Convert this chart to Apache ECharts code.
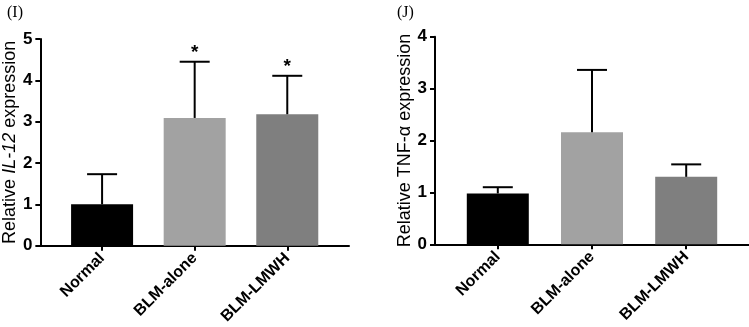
<!DOCTYPE html>
<html><head><meta charset="utf-8">
<script src="https://cdn.jsdelivr.net/npm/echarts@6/dist/echarts.min.js"></script>
<style>html,body{margin:0;padding:0;background:#fff}#c{width:749px;height:327px}</style>
</head><body><div id="c"></div>
<script>
const categories = ['Normal', 'BLM-alone', 'BLM-LMWH'];
const catPos = [2, 5, 8];
const il12Values = [1.0, 3.09, 3.18];
const il12Errors = [0.73, 1.36, 0.93];
const il12Sig = ['', '*', '*'];
const tnfValues = [0.98, 2.16, 1.30];
const tnfErrors = [0.12, 1.20, 0.24];
const tnfSig = ['', '', ''];
const il12Ticks = [0, 1, 2, 3, 4, 5];
const tnfTicks = [0, 1, 2, 3, 4];
const barColors = ['#000000', '#a2a2a2', '#7f7f7f'];

const chart = echarts.init(document.getElementById('c'));
const font = 'Liberation Sans, Arial, sans-serif';

function xAxisCfg(gi) {
  return {
    type: 'value', gridIndex: gi, min: 0, max: 10,
    splitLine: {show: false},
    axisLine: {show: true, lineStyle: {color: '#000', width: 2}},
    axisTick: {show: true, customValues: catPos, length: 5, lineStyle: {color: '#000', width: 2}},
    axisLabel: {show: true, customValues: catPos, rotate: 45, margin: 10,
      fontFamily: font, fontWeight: 'bold', fontSize: 16, color: '#000',
      formatter: v => categories[catPos.indexOf(Math.round(v))] || ''}
  };
}
function yAxisCfg(gi, max, nameRich, gap) {
  return {
    type: 'value', gridIndex: gi, min: 0, max: max, interval: 1,
    splitLine: {show: false},
    axisLine: {show: true, lineStyle: {color: '#000', width: 2}},
    axisTick: {show: true, length: 5, lineStyle: {color: '#000', width: 2}},
    axisLabel: {fontFamily: font, fontWeight: 'bold', fontSize: 17, color: '#000', margin: 8},
    name: nameRich, nameLocation: 'middle', nameRotate: 90, nameGap: gap,
    nameTextStyle: {fontFamily: font, fontSize: 18, color: '#000',
      rich: {it: {fontStyle: 'italic', fontFamily: font, fontSize: 18, color: '#000'}}}
  };
}
function barSeries(gi, vals) {
  return {
    type: 'bar', xAxisIndex: gi, yAxisIndex: gi, barWidth: 62,
    data: vals.map((v, i) => ({value: [catPos[i], v], itemStyle: {color: barColors[i]}})),
    z: 2
  };
}
function errSeries(gi, vals, errs, sig) {
  return {
    type: 'custom', xAxisIndex: gi, yAxisIndex: gi, z: 3,
    data: vals.map((v, i) => [catPos[i], v, v + errs[i], i]),
    renderItem: function (params, api) {
      const p0 = api.coord([api.value(0), api.value(1)]);
      const p1 = api.coord([api.value(0), api.value(2)]);
      const s = sig[api.value(3)];
      const children = [
        {type: 'line', shape: {x1: p0[0], y1: p0[1], x2: p1[0], y2: p1[1]}, style: {stroke: '#000', lineWidth: 2}},
        {type: 'line', shape: {x1: p1[0] - 15, y1: p1[1], x2: p1[0] + 15, y2: p1[1]}, style: {stroke: '#000', lineWidth: 2}}
      ];
      if (s) children.push({type: 'text', x: p1[0], y: p1[1] - 9,
        style: {text: s, fontFamily: font, fontWeight: 'bold', fontSize: 19, fill: '#000', align: 'center', verticalAlign: 'middle'}});
      return {type: 'group', children: children};
    }
  };
}

chart.setOption({
  animation: false,
  backgroundColor: '#fff',
  title: [
    {text: '(I)', left: 2, top: 0, textStyle: {fontFamily: 'Liberation Serif, Times New Roman, serif', fontWeight: 'normal', fontSize: 16, color: '#000'}},
    {text: '(J)', left: 392, top: 0, textStyle: {fontFamily: 'Liberation Serif, Times New Roman, serif', fontWeight: 'normal', fontSize: 16, color: '#000'}}
  ],
  grid: [
    {left: 39, top: 39, width: 310, height: 206.7},
    {left: 435, top: 36.7, width: 314, height: 207.6}
  ],
  xAxis: [xAxisCfg(0), xAxisCfg(1)],
  yAxis: [
    yAxisCfg(0, 5, 'Relative {it|IL-12} expression', 19),
    yAxisCfg(1, 4, 'Relative TNF-α expression', 16)
  ],
  series: [
    barSeries(0, il12Values), errSeries(0, il12Values, il12Errors, il12Sig),
    barSeries(1, tnfValues), errSeries(1, tnfValues, tnfErrors, tnfSig)
  ]
});
</script></body></html>
